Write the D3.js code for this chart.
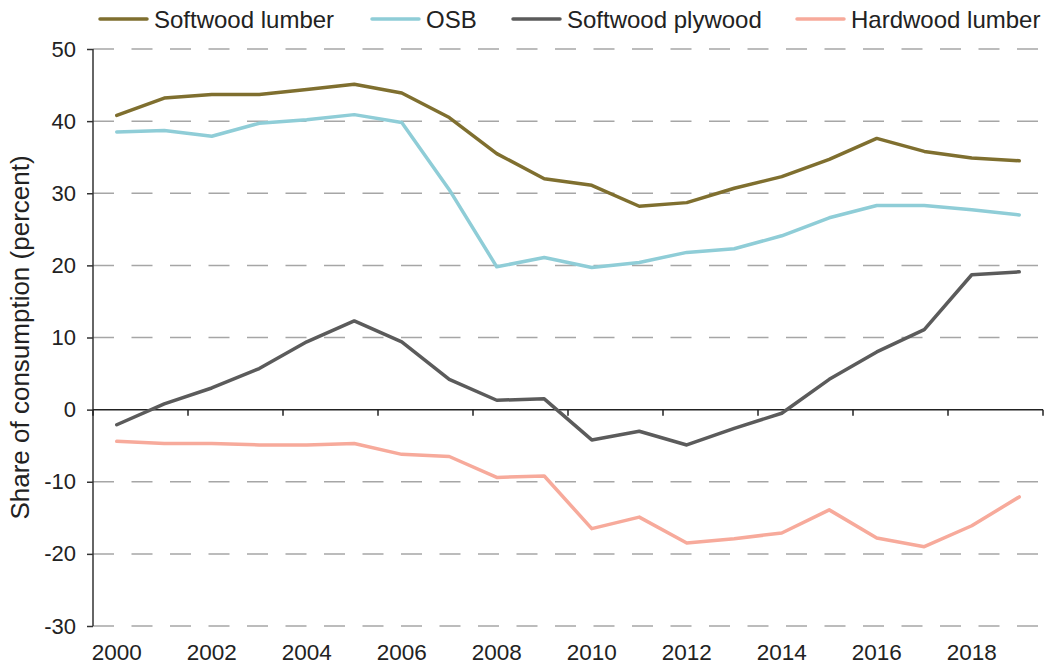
<!DOCTYPE html>
<html><head><meta charset="utf-8">
<script src="https://cdn.jsdelivr.net/npm/d3@7"></script>
<style>body{margin:0;background:#fff}svg{display:block;font-family:"Liberation Sans",Arial,Helvetica,sans-serif}</style>
</head><body><svg id="c" width="1048" height="666"></svg>
<script>
const years = [2000,2001,2002,2003,2004,2005,2006,2007,2008,2009,2010,2011,2012,2013,2014,2015,2016,2017,2018,2019];
const seriesNames = ["Softwood lumber","OSB","Softwood plywood","Hardwood lumber"];
const softwoodLumber = [40.8,43.2,43.7,43.7,44.4,45.1,43.9,40.5,35.5,32.0,31.1,28.2,28.7,30.7,32.3,34.7,37.6,35.8,34.9,34.5];
const osb = [38.5,38.7,37.9,39.7,40.2,40.9,39.8,30.5,19.8,21.1,19.7,20.4,21.8,22.3,24.1,26.6,28.3,28.3,27.7,27.0];
const softwoodPlywood = [-2.1,0.8,3.0,5.7,9.4,12.3,9.4,4.2,1.3,1.5,-4.2,-3.0,-4.9,-2.6,-0.5,4.2,8.0,11.1,18.7,19.1];
const hardwoodLumber = [-4.4,-4.7,-4.7,-4.9,-4.9,-4.7,-6.2,-6.5,-9.4,-9.2,-16.5,-14.9,-18.5,-17.9,-17.1,-13.9,-17.8,-19.0,-16.1,-12.1];
const yTicks = [-30,-20,-10,0,10,20,30,40,50];
const xTickLabels = [2000,2002,2004,2006,2008,2010,2012,2014,2016,2018];
const colors = ["#7f6f2f","#8fcdd7","#5b5b5b","#f7aa9b"];
const yLabel = "Share of consumption (percent)";

const svg = d3.select("#c");
const L = 93, R = 1043, T = 49, B = 626;
const x = d3.scaleBand().domain(years).range([L, R]);
const y = d3.scaleLinear().domain([-30, 50]).range([B, T]);
const cx = d => x(d) + x.bandwidth()/2;

// gridlines
svg.append("g").selectAll("line").data(yTicks.filter(v => v !== 0)).join("line")
  .attr("x1", L).attr("x2", R).attr("y1", d => y(d)).attr("y2", d => y(d))
  .attr("stroke", "#a6a6a6").attr("stroke-width", 1.5).attr("stroke-dasharray", "21,17.5");

// y axis
const yAxis = svg.append("g").attr("transform", `translate(${L},0)`)
  .call(d3.axisLeft(y).tickValues(yTicks).tickSize(6).tickPadding(11).tickFormat(d => String(d)));
yAxis.select(".domain").attr("stroke", "#333").attr("stroke-width", 1.5).attr("d", `M0,${T}V${B}`);
yAxis.selectAll(".tick line").attr("stroke", "#333").attr("stroke-width", 1.5);
yAxis.selectAll(".tick text").attr("font-size", 22).attr("fill", "#222").attr("font-family", "Liberation Sans, Arial, sans-serif");

// x axis at zero
const xAxis = svg.append("g").attr("transform", `translate(0,${y(0)})`);
xAxis.append("line").attr("x1", L).attr("x2", R).attr("stroke", "#222").attr("stroke-width", 1.5);
const tickPos = d3.range(0, years.length + 1, 2).map(k => L + k * x.step());
xAxis.selectAll("line.t").data(tickPos).join("line").attr("class","t")
  .attr("x1", d => d).attr("x2", d => d).attr("y1", 0).attr("y2", 6)
  .attr("stroke", "#222").attr("stroke-width", 1.5);

// x labels at bottom
svg.append("g").selectAll("text").data(xTickLabels).join("text")
  .attr("x", d => cx(d)).attr("y", 660).attr("text-anchor", "middle")
  .attr("font-size", 22.5).attr("fill", "#222").text(d => d);

// y label
svg.append("text").attr("transform", `translate(29,${(T+B)/2}) rotate(-90)`)
  .attr("text-anchor", "middle").attr("font-size", 26).attr("fill", "#222").text(yLabel);

// lines
const data = [softwoodLumber, osb, softwoodPlywood, hardwoodLumber];
const line = d3.line().x((d,i) => cx(years[i])).y(d => y(d));
svg.append("g").selectAll("path").data(data).join("path")
  .attr("d", line).attr("fill", "none")
  .attr("stroke", (d,i) => colors[i]).attr("stroke-width", 3.5)
  .attr("stroke-linejoin", "round").attr("stroke-linecap", "round");

// legend
const legX = [100, 372, 513, 797];
const lg = svg.append("g").selectAll("g").data(seriesNames).join("g")
  .attr("transform", (d,i) => `translate(${legX[i]},19)`);
lg.append("line").attr("x1", 0).attr("x2", 47).attr("stroke", (d,i) => colors[i])
  .attr("stroke-width", 3.5).attr("stroke-linecap", "round");
lg.append("text").attr("x", 54).attr("y", 8.5).attr("font-size", 24).attr("fill", "#222").text(d => d);
</script></body></html>
